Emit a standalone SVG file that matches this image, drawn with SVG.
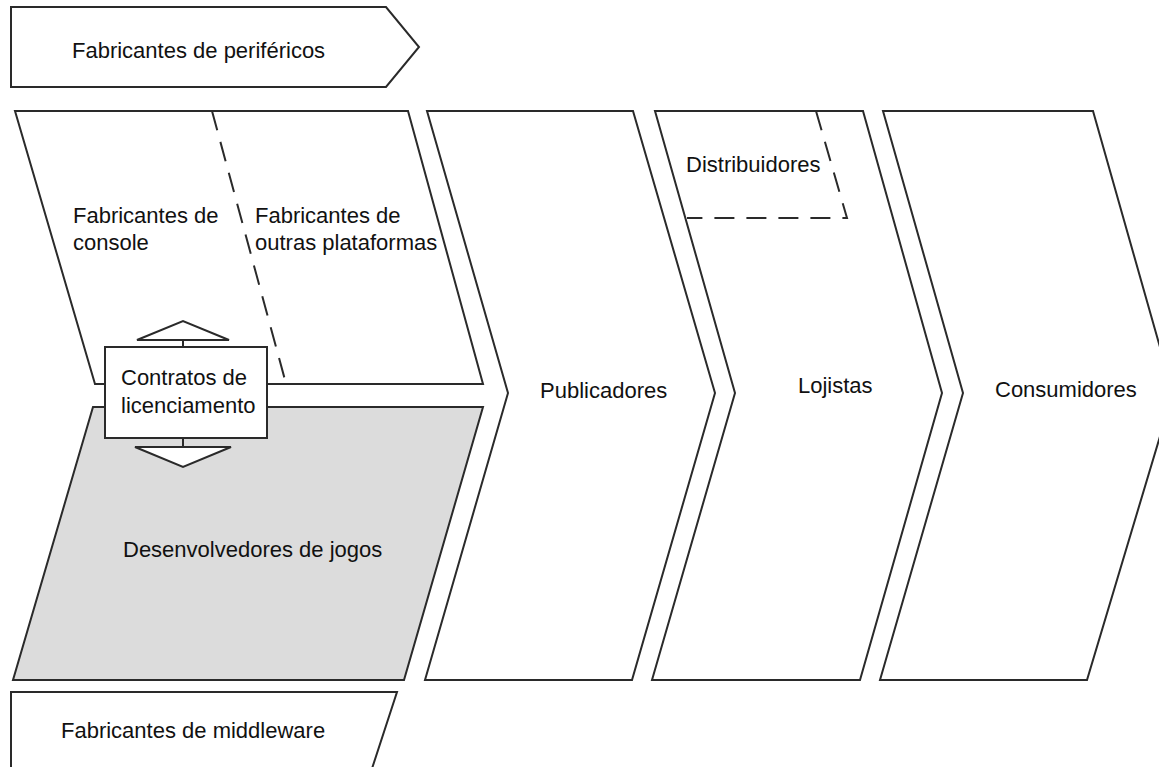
<svg xmlns="http://www.w3.org/2000/svg" width="1159" height="767" viewBox="0 0 1159 767">
<defs>
<style>
.sh{fill:#ffffff;stroke:#2a2a2a;stroke-width:2;stroke-linejoin:miter}
.gr{fill:#dcdcdc;stroke:#2a2a2a;stroke-width:2}
.ds{fill:none;stroke:#2a2a2a;stroke-width:2;stroke-dasharray:20,12}
.ln{fill:none;stroke:#2a2a2a;stroke-width:2}
text{font-family:"Liberation Sans",Arial,sans-serif;font-size:22px;fill:#111111}
</style>
</defs>
<rect width="1159" height="767" fill="#ffffff"/>
<g id="perifericos">
<polygon class="sh" points="11,7 386,7 419,47 386,87 11,87"/>
<text x="72" y="58">Fabricantes de periféricos</text>
</g>
<g id="plataformas">
<polygon class="sh" points="15,111 408,111 483,384 95,384"/>
<line class="ds" x1="212" y1="111" x2="285" y2="380"/>
<text x="73" y="223">Fabricantes de</text>
<text x="73" y="250">console</text>
<text x="255" y="223">Fabricantes de</text>
<text x="255" y="250">outras plataformas</text>
</g>
<g id="desenvolvedores">
<polygon class="gr" points="93,407 483,407 404,680 13,680"/>
<text x="123" y="557">Desenvolvedores de jogos</text>
</g>
<g id="middleware">
<polygon class="sh" points="11,692 397,692 365,790 11,790"/>
<text x="61" y="738">Fabricantes de middleware</text>
</g>
<g id="publicadores">
<polygon class="sh" points="427,111 633,111 715,393 632,680 425,680 508,393"/>
<text x="540" y="398">Publicadores</text>
</g>
<g id="lojistas">
<polygon class="sh" points="655,111 863,111 942,393 860,680 652,680 735,393"/>
<polyline class="ds" points="816,111 847,218 687,218"/>
<text x="686" y="172">Distribuidores</text>
<text x="798" y="393">Lojistas</text>
</g>
<g id="consumidores">
<polygon class="sh" points="883,111 1093,111 1173,393 1087,680 880,680 963,393"/>
<text x="995" y="397">Consumidores</text>
</g>
<g id="connectors">
<line class="ln" x1="183" y1="340" x2="183" y2="347"/>
<polygon class="sh" points="137,340 183,321 229,340"/>
<line class="ln" x1="183" y1="438" x2="183" y2="447"/>
<polygon class="sh" points="135,447 231,447 183,467"/>
</g>
<g id="contratos">
<rect class="sh" x="105" y="347" width="162" height="91"/>
<text x="121" y="385">Contratos de</text>
<text x="121" y="413">licenciamento</text>
</g>
</svg>
